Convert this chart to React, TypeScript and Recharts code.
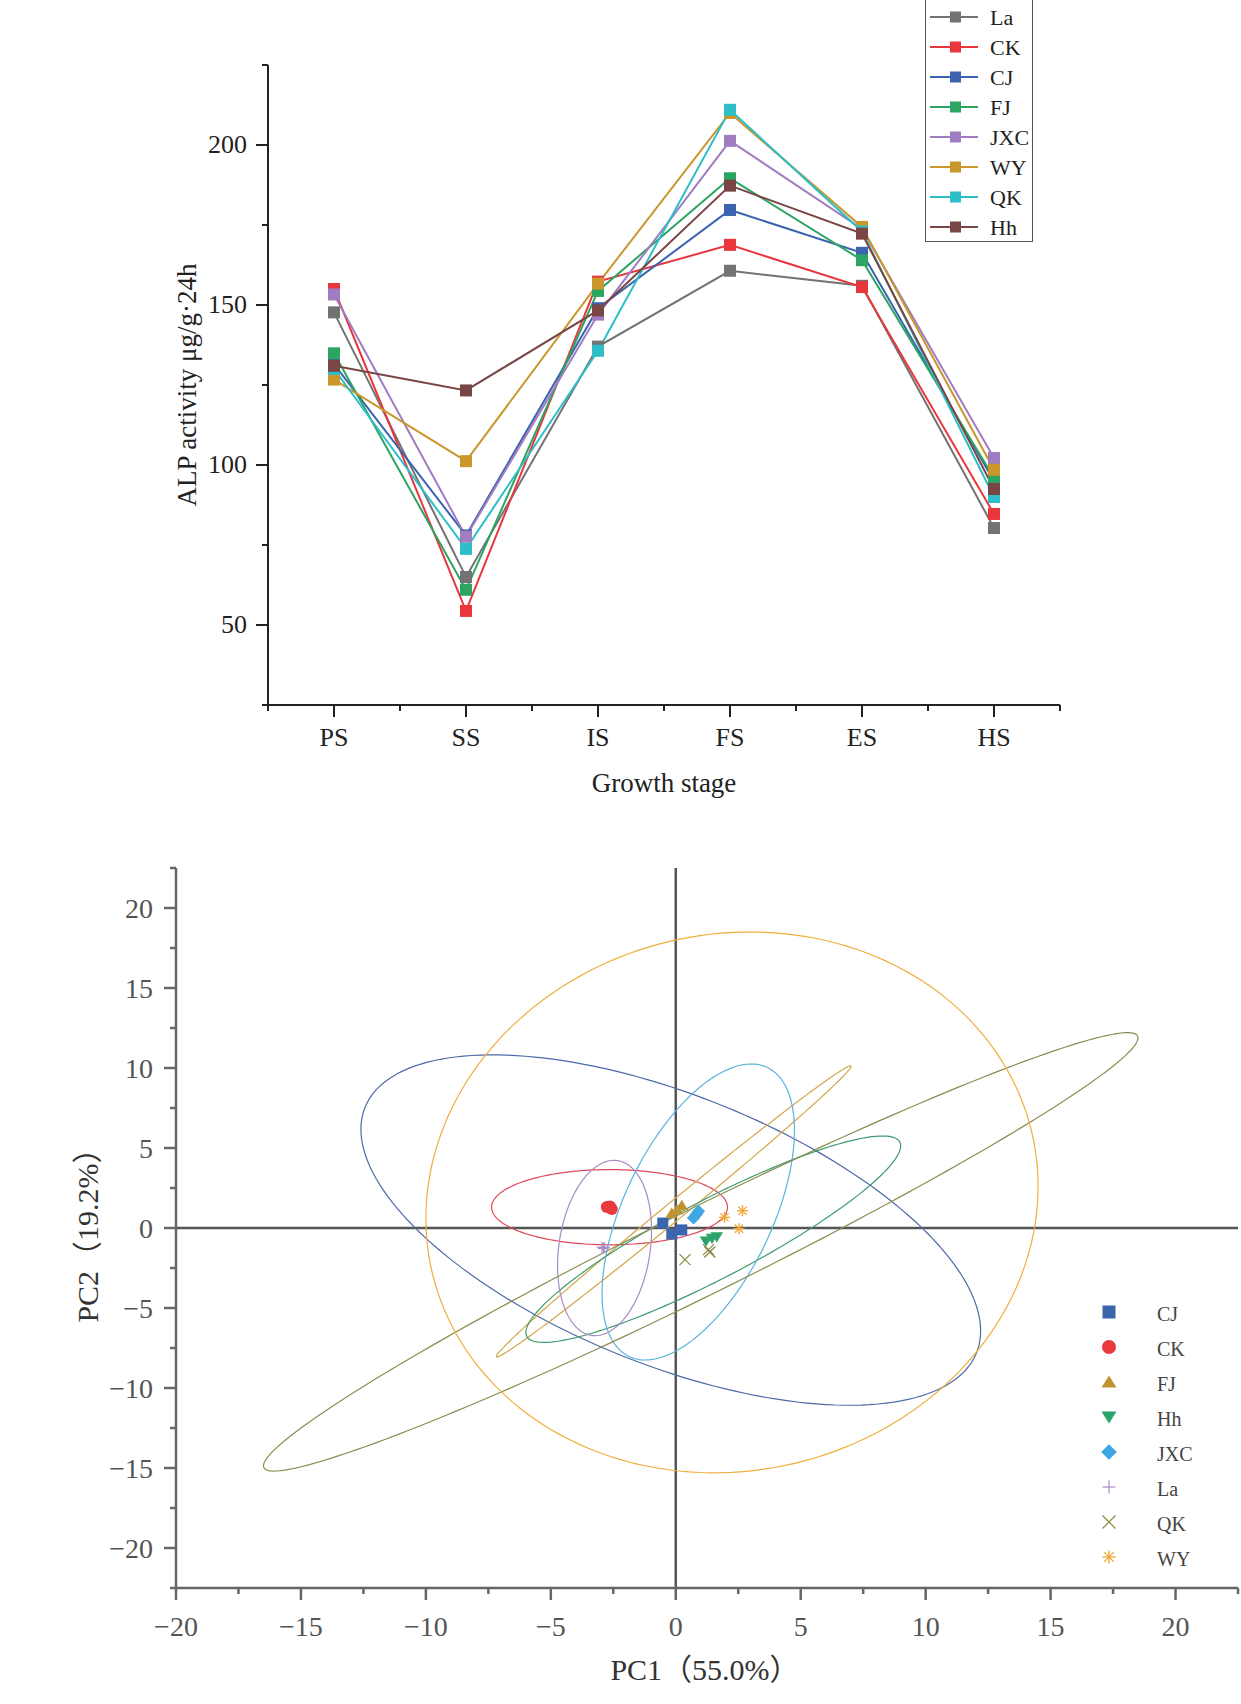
import React from "react"
import { LineChart, Line, XAxis, YAxis, ScatterChart, Scatter, ReferenceLine } from "recharts"

// ---- ALP activity by growth stage ----
const stages = ["PS", "SS", "IS", "FS", "ES", "HS"]
const laAlp = [147.7, 65.0, 137.0, 160.7, 156.0, 80.3]
const ckAlp = [155.0, 54.4, 157.3, 168.8, 155.6, 84.7]
const cjAlp = [131.5, 78.0, 149.0, 179.7, 166.3, 95.0]
const fjAlp = [134.9, 61.0, 154.4, 189.6, 164.0, 96.0]
const jxcAlp = [153.3, 77.6, 147.0, 201.3, 173.8, 102.2]
const wyAlp = [126.7, 101.2, 156.7, 210.0, 174.4, 98.5]
const qkAlp = [130.0, 73.8, 135.7, 211.0, 173.0, 90.0]
const hhAlp = [131.0, 123.3, 148.3, 187.3, 172.3, 92.5]
const alpTicks = [25, 50, 75, 100, 125, 150, 175, 200, 225]
const alpLabels = [50, 100, 150, 200]

const alpSeries = [
  { name: "La", color: "#737373", values: laAlp },
  { name: "CK", color: "#e8363d", values: ckAlp },
  { name: "CJ", color: "#3b63ae", values: cjAlp },
  { name: "FJ", color: "#2ca562", values: fjAlp },
  { name: "JXC", color: "#a07cc0", values: jxcAlp },
  { name: "WY", color: "#c9972b", values: wyAlp },
  { name: "QK", color: "#2dbec7", values: qkAlp },
  { name: "Hh", color: "#7a4545", values: hhAlp },
]

const alpRows = stages.map((stage, i) => {
  const row: any = { x: i + 0.5, stage }
  alpSeries.forEach((s) => (row[s.name] = s.values[i]))
  return row
})

// ---- PCA scores (PC1, PC2) ----
const cjScores = [[-0.52, 0.31], [-0.16, -0.38], [0.24, -0.12]]
const ckScores = [[-2.76, 1.31], [-2.63, 1.35], [-2.56, 1.19]]
const fjScores = [[-0.16, 0.94], [0.24, 1.42], [0.05, 1.15]]
const hhScores = [[1.21, -0.83], [1.64, -0.56], [1.45, -0.65]]
const jxcScores = [[0.71, 0.63], [0.82, 0.85], [0.91, 1.04]]
const laScores = [[-2.95, -1.2], [-2.9, -1.28], [-2.86, -1.22]]
const qkScores = [[1.31, -1.35], [1.36, -1.5], [0.37, -1.98]]
const wyScores = [[1.95, 0.67], [2.67, 1.08], [2.53, -0.04]]

// confidence ellipses: centre x, centre y, x half-extent, y half-extent, y offset at x max
const cjEllipse = [-0.2, -0.13, 12.4, 10.95, -6.3]
const ckEllipse = [-2.65, 1.3, 4.72, 2.35, 0]
const fjEllipse = [-0.08, 1.04, 7.1, 9.1, 9.07]
const hhEllipse = [1.5, -0.7, 7.5, 6.45, 5.83]
const jxcEllipse = [0.9, 1.0, 3.85, 9.25, 5.1]
const laEllipse = [-2.85, -1.25, 1.88, 5.48, 1.1]
const qkEllipse = [1.0, -1.49, 17.5, 13.7, 13.37]
const wyEllipse = [2.25, 1.6, 12.25, 16.9, 1.0]

const pcXTicks = [-20, -17.5, -15, -12.5, -10, -7.5, -5, -2.5, 0, 2.5, 5, 7.5, 10, 12.5, 15, 17.5, 20, 22.5]
const pcYTicks = [-22.5, -20, -17.5, -15, -12.5, -10, -7.5, -5, -2.5, 0, 2.5, 5, 7.5, 10, 12.5, 15, 17.5, 20, 22.5]

const pcaGroups = [
  { name: "CJ", kind: "square", color: "#3a66b0", ring: "#4d6aa8", scores: cjScores, ellipse: cjEllipse },
  { name: "CK", kind: "circle", color: "#e8393f", ring: "#e0485a", scores: ckScores, ellipse: ckEllipse },
  { name: "FJ", kind: "triangle", color: "#bf9330", ring: "#d2a74a", scores: fjScores, ellipse: fjEllipse },
  { name: "Hh", kind: "down", color: "#2ba36a", ring: "#3f9b70", scores: hhScores, ellipse: hhEllipse },
  { name: "JXC", kind: "diamond", color: "#3ea6e0", ring: "#5ab2de", scores: jxcScores, ellipse: jxcEllipse },
  { name: "La", kind: "plus", color: "#a98bc9", ring: "#a88bc2", scores: laScores, ellipse: laEllipse },
  { name: "QK", kind: "cross", color: "#8a8a40", ring: "#8c8c52", scores: qkScores, ellipse: qkEllipse },
  { name: "WY", kind: "star", color: "#f0a530", ring: "#f0ae3c", scores: wyScores, ellipse: wyEllipse },
]

function ellipsePoints([cx, cy, rx, ry, k]: number[]) {
  const m = Math.sqrt(Math.max(ry * ry - k * k, 0))
  const pts = []
  for (let i = 0; i <= 180; i++) {
    const t = (i / 180) * 2 * Math.PI
    pts.push({ x: cx + rx * Math.cos(t), y: cy + k * Math.cos(t) + m * Math.sin(t) })
  }
  return pts
}

const serif = "'Liberation Serif', 'Times New Roman', serif"
const cjkSerif = "'Liberation Serif', 'Noto Sans CJK SC', serif"

function Marker({ kind, cx, cy, color, s }: any) {
  const h = s / 2
  switch (kind) {
    case "square":
      return <rect x={cx - h} y={cy - h} width={s} height={s} fill={color} />
    case "circle":
      return <circle cx={cx} cy={cy} r={h + 0.5} fill={color} />
    case "triangle":
      return <polygon points={`${cx},${cy - h} ${cx + h * 1.15},${cy + h * 0.85} ${cx - h * 1.15},${cy + h * 0.85}`} fill={color} />
    case "down":
      return <polygon points={`${cx},${cy + h} ${cx + h * 1.15},${cy - h * 0.85} ${cx - h * 1.15},${cy - h * 0.85}`} fill={color} />
    case "diamond":
      return <polygon points={`${cx},${cy - h * 1.2} ${cx + h * 1.2},${cy} ${cx},${cy + h * 1.2} ${cx - h * 1.2},${cy}`} fill={color} />
    case "plus":
      return (
        <g stroke={color} strokeWidth={1.2}>
          <line x1={cx - h} x2={cx + h} y1={cy} y2={cy} />
          <line x1={cx} x2={cx} y1={cy - h} y2={cy + h} />
        </g>
      )
    case "cross":
      return (
        <g stroke={color} strokeWidth={1.2}>
          <line x1={cx - h} x2={cx + h} y1={cy - h} y2={cy + h} />
          <line x1={cx - h} x2={cx + h} y1={cy + h} y2={cy - h} />
        </g>
      )
    default:
      return (
        <g stroke={color} strokeWidth={1.3}>
          <line x1={cx - h} x2={cx + h} y1={cy} y2={cy} />
          <line x1={cx} x2={cx} y1={cy - h} y2={cy + h} />
          <line x1={cx - h * 0.75} x2={cx + h * 0.75} y1={cy - h * 0.75} y2={cy + h * 0.75} />
          <line x1={cx - h * 0.75} x2={cx + h * 0.75} y1={cy + h * 0.75} y2={cy - h * 0.75} />
        </g>
      )
  }
}

function StageTick({ x, y, payload }: any) {
  const v = payload.value
  const major = v % 1 !== 0
  return (
    <g>
      <line x1={x} x2={x} y1={y} y2={y + (major ? 12 : 6)} stroke="#222" strokeWidth={2} />
      {major && (
        <text x={x} y={y + 41} textAnchor="middle" fontSize={26} fontFamily={serif} fill="#222">
          {stages[Math.floor(v)]}
        </text>
      )}
    </g>
  )
}

function AlpTick({ x, y, payload }: any) {
  const v = payload.value
  const major = alpLabels.includes(v)
  return (
    <g>
      <line x1={x} x2={x - (major ? 12 : 6)} y1={y} y2={y} stroke="#222" strokeWidth={2} />
      {major && (
        <text x={x - 21} y={y + 8} textAnchor="end" fontSize={26} fontFamily={serif} fill="#222">
          {v}
        </text>
      )}
    </g>
  )
}

const fmt = (v: number) => (v < 0 ? `\u2212${-v}` : `${v}`)

function PcXTick({ x, y, payload }: any) {
  const v = payload.value
  const major = v % 5 === 0
  return (
    <g>
      <line x1={x} x2={x} y1={y} y2={y + (major ? 12 : 6)} stroke="#666" strokeWidth={2.5} />
      {major && (
        <text x={x} y={y + 48} textAnchor="middle" fontSize={28} fontFamily={serif} fill="#555">
          {fmt(v)}
        </text>
      )}
    </g>
  )
}

function PcYTick({ x, y, payload }: any) {
  const v = payload.value
  const major = v % 5 === 0
  return (
    <g>
      <line x1={x} x2={x - (major ? 12 : 6)} y1={y} y2={y} stroke="#666" strokeWidth={2.5} />
      {major && (
        <text x={x - 23} y={y + 10} textAnchor="end" fontSize={28} fontFamily={serif} fill="#555">
          {fmt(v)}
        </text>
      )}
    </g>
  )
}

function AlpLegend() {
  return (
    <div
      style={{
        position: "absolute",
        left: 925,
        top: 0,
        width: 108,
        height: 242,
        border: "1.5px solid #555",
        borderTop: "none",
        background: "#fff",
        boxSizing: "border-box",
      }}
    >
      {alpSeries.map((s, i) => (
        <div key={s.name} style={{ position: "absolute", left: 0, top: 2 + i * 30, height: 30, width: 108 }}>
          <svg width={60} height={30} style={{ position: "absolute", left: 0, top: 0 }}>
            <line x1={4} x2={52} y1={15} y2={15} stroke={s.color} strokeWidth={2} />
            <rect x={24} y={9.5} width={11} height={11} fill={s.color} />
          </svg>
          <span
            style={{
              position: "absolute",
              left: 64,
              top: 1,
              fontFamily: serif,
              fontSize: 22,
              lineHeight: "30px",
              color: "#222",
            }}
          >
            {s.name}
          </span>
        </div>
      ))}
    </div>
  )
}

function PcaLegend() {
  return (
    <div style={{ position: "absolute", left: 1094, top: 1297, width: 140 }}>
      {pcaGroups.map((g, i) => (
        <div key={g.name} style={{ position: "absolute", left: 0, top: i * 35, height: 30, width: 140 }}>
          <svg width={30} height={30} style={{ position: "absolute", left: 0, top: 0 }}>
            <Marker kind={g.kind} cx={15} cy={15} color={g.color} s={13} />
          </svg>
          <span
            style={{
              position: "absolute",
              left: 63,
              top: 2,
              fontFamily: serif,
              fontSize: 20,
              lineHeight: "30px",
              color: "#444",
            }}
          >
            {g.name}
          </span>
        </div>
      ))}
    </div>
  )
}

export default function App() {
  return (
    <div style={{ position: "absolute", left: 0, top: 0, width: 1241, height: 1704, background: "#fff" }}>
      <div style={{ position: "absolute", left: 0, top: 0 }}>
        <LineChart width={1241} height={800} data={alpRows} margin={{ top: 65, right: 181, left: 208, bottom: 65 }}>
          <XAxis
            dataKey="x"
            type="number"
            domain={[0, 6]}
            ticks={[0, 0.5, 1, 1.5, 2, 2.5, 3, 3.5, 4, 4.5, 5, 5.5, 6]}
            interval={0}
            height={30}
            tickSize={0}
            tickMargin={0}
            tickLine={false}
            axisLine={{ stroke: "#222", strokeWidth: 2 }}
            tick={<StageTick />}
          />
          <YAxis
            type="number"
            domain={[25, 225]}
            ticks={alpTicks}
            interval={0}
            width={60}
            tickSize={0}
            tickMargin={0}
            tickLine={false}
            axisLine={{ stroke: "#222", strokeWidth: 2 }}
            tick={<AlpTick />}
          />
          {alpSeries.map((s) => (
            <Line
              key={s.name}
              dataKey={s.name}
              name={s.name}
              stroke={s.color}
              strokeWidth={2}
              isAnimationActive={false}
              activeDot={false}
              dot={(p: any) => (
                <rect key={`${s.name}-${p.index}`} x={p.cx - 6} y={p.cy - 6} width={12} height={12} fill={s.color} />
              )}
            />
          ))}
        </LineChart>
      </div>
      <AlpLegend />
      <div
        style={{
          position: "absolute",
          left: 187,
          top: 385,
          transform: "translate(-50%, -50%) rotate(-90deg)",
          whiteSpace: "nowrap",
          fontFamily: serif,
          fontSize: 27,
          color: "#222",
        }}
      >
        ALP activity μg/g·24h
      </div>
      <div
        style={{
          position: "absolute",
          left: 664,
          top: 783,
          transform: "translate(-50%, -50%)",
          whiteSpace: "nowrap",
          fontFamily: serif,
          fontSize: 27,
          color: "#222",
        }}
      >
        Growth stage
      </div>

      <div style={{ position: "absolute", left: 0, top: 820 }}>
        <ScatterChart width={1241} height={884} margin={{ top: 48, right: 3, left: 116, bottom: 86 }}>
          <XAxis
            dataKey="x"
            type="number"
            domain={[-20, 22.5]}
            ticks={pcXTicks}
            interval={0}
            height={30}
            tickSize={0}
            tickMargin={0}
            tickLine={false}
            axisLine={{ stroke: "#666", strokeWidth: 2.5 }}
            tick={<PcXTick />}
          />
          <YAxis
            dataKey="y"
            type="number"
            domain={[-22.5, 22.5]}
            ticks={pcYTicks}
            interval={0}
            width={60}
            tickSize={0}
            tickMargin={0}
            tickLine={false}
            axisLine={{ stroke: "#666", strokeWidth: 2.5 }}
            tick={<PcYTick />}
          />
          <ReferenceLine x={0} stroke="#555" strokeWidth={2.5} />
          <ReferenceLine y={0} stroke="#555" strokeWidth={2.5} />
          {pcaGroups.map((g) => (
            <Scatter
              key={`${g.name}-ellipse`}
              data={ellipsePoints(g.ellipse)}
              fill={g.ring}
              line={{ stroke: g.ring, strokeWidth: 1.2 }}
              lineType="joint"
              shape={() => <g />}
              legendType="none"
              isAnimationActive={false}
            />
          ))}
          {pcaGroups.map((g) => (
            <Scatter
              key={g.name}
              name={g.name}
              data={g.scores.map(([x, y]) => ({ x, y }))}
              fill={g.color}
              shape={(p: any) => <Marker kind={g.kind} cx={p.cx} cy={p.cy} color={g.color} s={11} />}
              isAnimationActive={false}
            />
          ))}
        </ScatterChart>
      </div>
      <PcaLegend />
      <div
        style={{
          position: "absolute",
          left: 85,
          top: 1228,
          transform: "translate(-50%, -50%) rotate(-90deg)",
          whiteSpace: "nowrap",
          fontFamily: cjkSerif,
          fontSize: 30,
          color: "#333",
        }}
      >
        PC2（19.2%）
      </div>
      <div
        style={{
          position: "absolute",
          left: 705,
          top: 1667,
          transform: "translate(-50%, -50%)",
          whiteSpace: "nowrap",
          fontFamily: cjkSerif,
          fontSize: 30,
          color: "#333",
        }}
      >
        PC1（55.0%）
      </div>
    </div>
  )
}
